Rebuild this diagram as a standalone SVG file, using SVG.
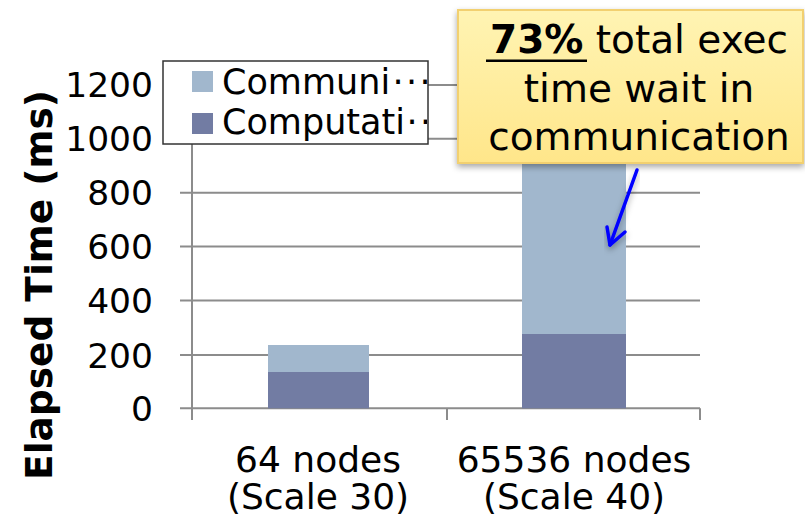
<svg xmlns="http://www.w3.org/2000/svg" width="805" height="521" viewBox="0 0 805 521">
  <style>
    text { font-family: "DejaVu Sans", Verdana, "Liberation Sans", sans-serif; fill: #000; }
    .tick { font-size: 34.5px; text-anchor: end; }
    .cat { font-size: 36px; text-anchor: middle; }
    .leg { font-size: 35px; }
    .call { font-size: 39px; text-anchor: middle; }
    .grid { stroke: #8c8c8c; stroke-width: 2; fill: none; }
    .comm { fill: #a1b7cd; }
    .comp { fill: #727ca3; }
  </style>
  <defs>
    <linearGradient id="noteFill" x1="0" y1="0" x2="0" y2="1">
      <stop offset="0" stop-color="#fff4b3"/>
      <stop offset="1" stop-color="#ffe68a"/>
    </linearGradient>
    <filter id="shadow" x="-10%" y="-10%" width="120%" height="130%">
      <feDropShadow dx="0" dy="3" stdDeviation="3" flood-color="#000" flood-opacity="0.35"/>
    </filter>
    <clipPath id="legClip">
      <rect x="163" y="61" width="264" height="83"/>
    </clipPath>
  </defs>

  <!-- gridlines and axes -->
  <g id="axes">
    <path class="grid" d="M180 408.3H700 M180 355H700 M180 300.5H700 M180 246.5H700 M180 192.7H700 M180 138.8H700 M180 84.9H700"/>
    <path class="grid" d="M192 84.9V420 M447 408.3V420 M700 408.3V420"/>
  </g>

  <!-- y tick labels -->
  <g id="y-labels">
    <text class="tick" x="153" y="420.5">0</text>
    <text class="tick" x="153" y="367.5">200</text>
    <text class="tick" x="153" y="313">400</text>
    <text class="tick" x="153" y="259">600</text>
    <text class="tick" x="153" y="205.2">800</text>
    <text class="tick" x="153" y="151.3">1000</text>
    <text class="tick" x="153" y="97.4">1200</text>
  </g>

  <text id="y-title" transform="translate(52 285) rotate(-90)" text-anchor="middle" font-size="37.5" font-weight="bold">Elapsed Time (ms)</text>

  <!-- stacked bars -->
  <g id="bar-64">
    <rect class="comm" x="268" y="345" width="101" height="27"/>
    <rect class="comp" x="268" y="372" width="101" height="36.3"/>
  </g>
  <g id="bar-65536">
    <rect class="comm" x="522" y="120" width="104" height="214"/>
    <rect class="comp" x="522" y="334" width="104" height="74.3"/>
  </g>

  <!-- category labels -->
  <g id="x-labels">
    <text class="cat" x="318" y="472">64 nodes</text>
    <text class="cat" x="318" y="509">(Scale 30)</text>
    <text class="cat" x="574" y="472">65536 nodes</text>
    <text class="cat" x="574" y="509">(Scale 40)</text>
  </g>

  <!-- legend (series names are truncated by the box edge) -->
  <g id="legend">
    <rect x="163" y="61" width="265" height="83" fill="#fff" stroke="#333" stroke-width="1.5"/>
    <g clip-path="url(#legClip)">
      <rect class="comm" x="192" y="71" width="21" height="21"/>
      <rect class="comp" x="192" y="113" width="21" height="21"/>
      <text class="leg" x="222" y="94">Communi<tspan x="392.5 406 419.5">···</tspan></text>
      <text class="leg" x="222" y="134">Computati<tspan x="406.5 420 433.5">···</tspan></text>
    </g>
  </g>

  <!-- callout note -->
  <g id="note">
    <rect x="458" y="10" width="345" height="153" fill="url(#noteFill)" stroke="#f2d070" stroke-width="2" filter="url(#shadow)"/>
    <text class="call" x="639" y="53"><tspan font-weight="bold">73%</tspan> total exec</text>
    <rect x="486" y="59.5" width="101" height="2.5" fill="#000"/>
    <text class="call" x="639" y="102">time wait in</text>
    <text class="call" x="639" y="150">communication</text>
  </g>

  <!-- pointer from note to bar -->
  <g id="connectors" fill="none" stroke="#0000ff" stroke-width="3.5" stroke-linecap="round" stroke-linejoin="round" filter="url(#shadow)">
    <path d="M637 170 L610 245"/>
    <path d="M607 227 L610 245 L625 232"/>
  </g>
</svg>
